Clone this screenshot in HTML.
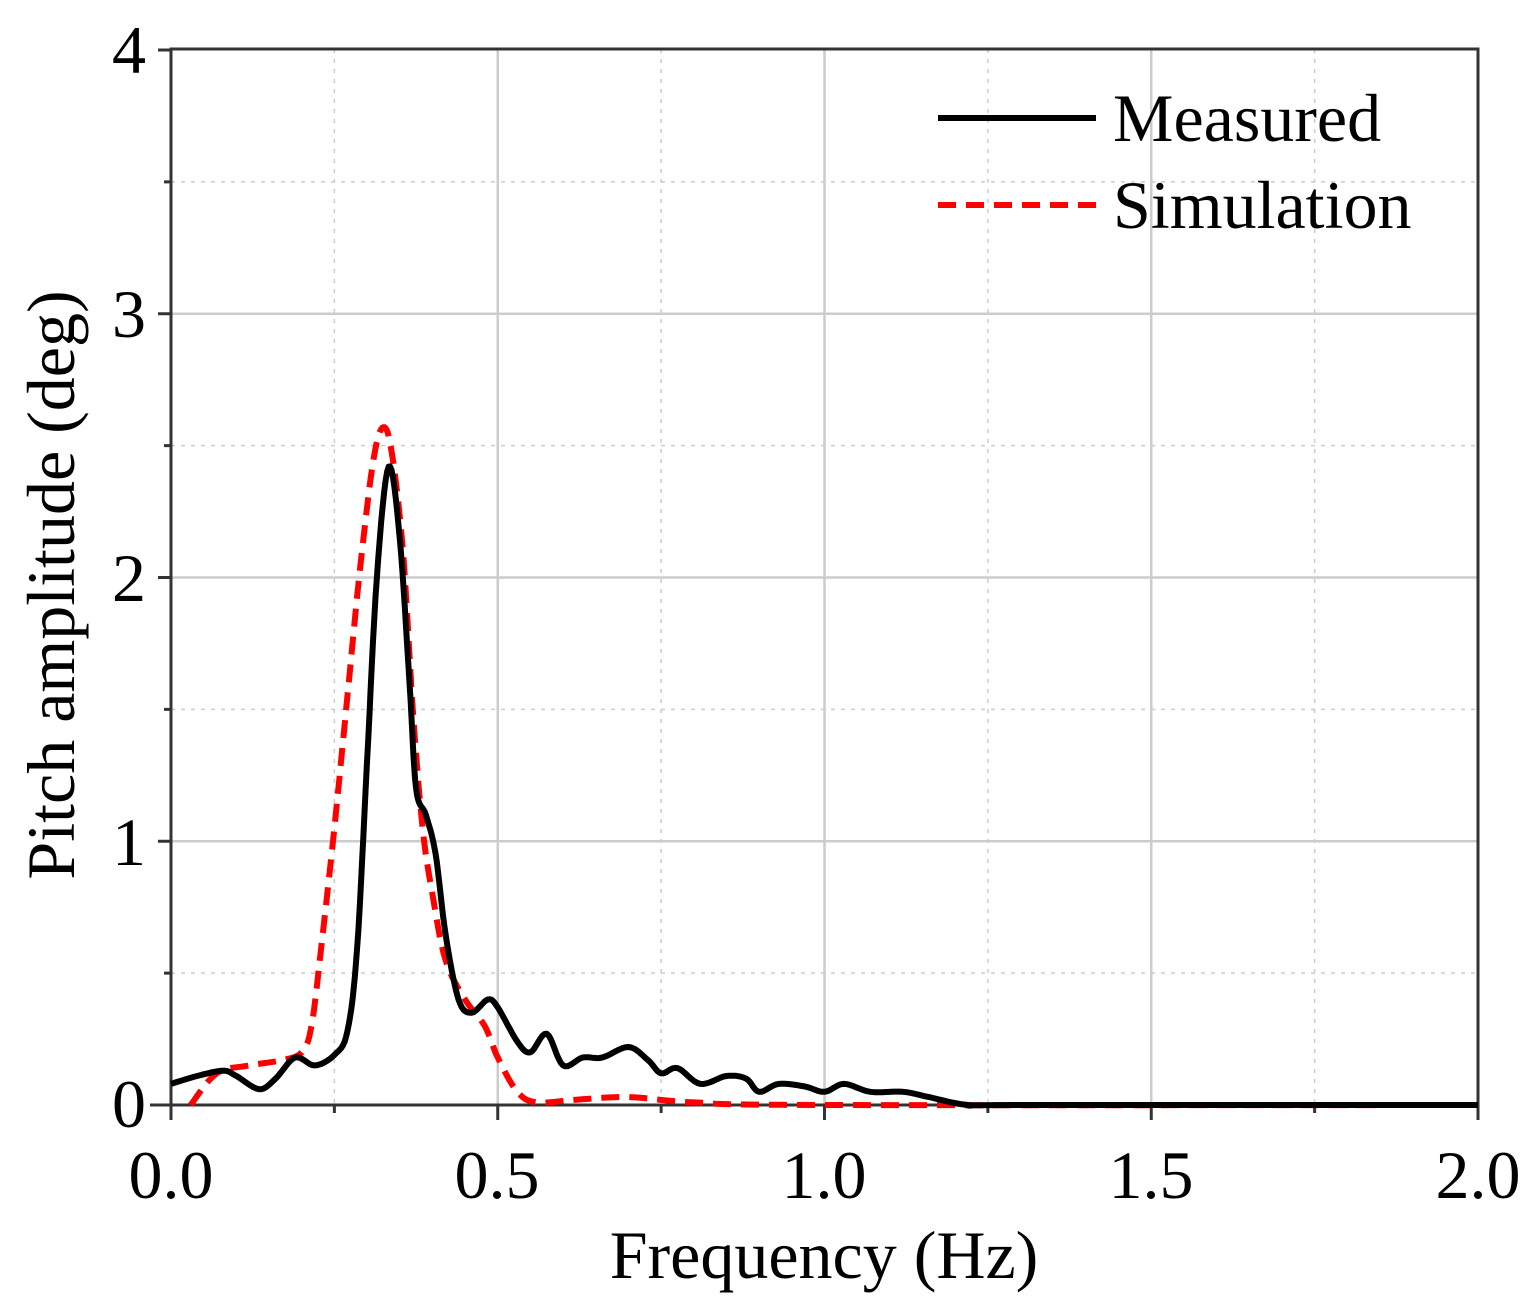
<!DOCTYPE html>
<html><head><meta charset="utf-8"><style>
html,body{margin:0;padding:0;background:#fff;}
svg{display:block;}
text{font-family:"Liberation Serif",serif;fill:#000;}
</style></head><body>
<svg id="s" width="1536" height="1314" viewBox="0 0 1536 1314" xmlns="http://www.w3.org/2000/svg">
<g id="grid"></g>
<rect x="171" y="49" width="1307" height="1056" fill="none" stroke="#333" stroke-width="3"/>
<g id="ticks" stroke="#333" stroke-width="3"></g>
<g font-size="68" text-anchor="end">
<text x="146" y="73">4</text><text x="146" y="337">3</text><text x="146" y="601">2</text><text x="146" y="865">1</text><text x="146" y="1127">0</text>
</g>
<g font-size="68" text-anchor="middle">
<text x="171" y="1198">0.0</text><text x="497" y="1198">0.5</text><text x="824" y="1198">1.0</text><text x="1151" y="1198">1.5</text><text x="1478" y="1198">2.0</text>
</g>
<text x="824" y="1278" font-size="68" text-anchor="middle">Frequency (Hz)</text>
<text transform="translate(74,585) rotate(-90)" font-size="68" text-anchor="middle">Pitch amplitude (deg)</text>
<polyline id="sim" fill="none" stroke="#ff0000" stroke-width="6" stroke-dasharray="18,10"/>
<polyline id="meas" fill="none" stroke="#000" stroke-width="6" stroke-linejoin="round"/>
<line x1="938" y1="118" x2="1096" y2="118" stroke="#000" stroke-width="6"/>
<line x1="938" y1="205" x2="1096" y2="205" stroke="#ff0000" stroke-width="6" stroke-dasharray="18,10"/>
<text x="1113" y="141" font-size="68">Measured</text>
<text x="1113" y="228" font-size="68">Simulation</text>
</svg>
<script>
const X=x=>171+x*653.5, Y=y=>1105-y*263.75;
const g=document.getElementById('grid'), t=document.getElementById('ticks');
let h='';
for(let i=1;i<8;i++){const x=X(i*0.25);h+=`<line x1="${x}" y1="49" x2="${x}" y2="1105" stroke="#ccc" stroke-width="${i%2?1.5:2.5}" ${i%2?'stroke-dasharray="4,6"':''}/>`;}
for(let j=1;j<8;j++){const y=Y(j*0.5);h+=`<line x1="171" y1="${y}" x2="1478" y2="${y}" stroke="#ccc" stroke-width="${j%2?1.5:2.5}" ${j%2?'stroke-dasharray="4,6"':''}/>`;}
g.innerHTML=h;
let k='';
for(let i=0;i<=8;i++){const x=X(i*0.25);k+=`<line x1="${x}" y1="1105" x2="${x}" y2="${i%2?1113:1120}"/>`;}
for(let j=0;j<=8;j++){const y=Y(j*0.5);k+=`<line x1="171" y1="${y}" x2="${j%2?164:158}" y2="${y}"/>`;}
k+=`<line x1="150" y1="1105" x2="171" y2="1105"/>`;
t.innerHTML=k;
function smooth(p){const out=[];for(let i=0;i<p.length-1;i++){const p0=p[Math.max(0,i-1)],p1=p[i],p2=p[i+1],p3=p[Math.min(p.length-1,i+2)];for(let s=0;s<8;s++){const u=s/8,u2=u*u,u3=u2*u;const f=(a,b,c,d)=>0.5*((2*b)+(-a+c)*u+(2*a-5*b+4*c-d)*u2+(-a+3*b-3*c+d)*u3);out.push([f(p0[0],p1[0],p2[0],p3[0]),f(p0[1],p1[1],p2[1],p3[1])]);}}out.push(p[p.length-1]);return out.map(q=>X(q[0]).toFixed(1)+','+Y(q[1]).toFixed(1)).join(' ');}
const meas=[[0,0.08],[0.04,0.11],[0.08,0.13],[0.1,0.11],[0.135,0.06],[0.16,0.1],[0.19,0.18],[0.22,0.15],[0.25,0.19],[0.27,0.28],[0.285,0.6],[0.3,1.3],[0.315,2.0],[0.333,2.42],[0.35,2.15],[0.365,1.6],[0.375,1.2],[0.39,1.1],[0.405,0.95],[0.42,0.65],[0.44,0.4],[0.46,0.35],[0.485,0.4],[0.5,0.37],[0.53,0.24],[0.55,0.2],[0.575,0.27],[0.6,0.15],[0.63,0.18],[0.66,0.18],[0.7,0.22],[0.73,0.17],[0.75,0.12],[0.775,0.14],[0.81,0.08],[0.85,0.11],[0.88,0.1],[0.9,0.05],[0.93,0.08],[0.97,0.07],[1.0,0.05],[1.03,0.08],[1.07,0.05],[1.12,0.05],[1.16,0.03],[1.22,0.0],[1.3,0],[2.0,0]];
const sim=[[0.03,0.0],[0.07,0.12],[0.12,0.15],[0.17,0.17],[0.2,0.2],[0.215,0.3],[0.23,0.6],[0.25,1.05],[0.27,1.55],[0.29,2.05],[0.31,2.45],[0.325,2.57],[0.338,2.47],[0.355,2.1],[0.37,1.5],[0.385,1.05],[0.4,0.8],[0.42,0.55],[0.45,0.4],[0.48,0.3],[0.5,0.18],[0.53,0.05],[0.56,0.01],[0.62,0.02],[0.7,0.03],[0.8,0.01],[1.0,0.0],[2.0,0]];
document.getElementById('meas').setAttribute('points',smooth(meas));
document.getElementById('sim').setAttribute('points',smooth(sim));
</script>
</body></html>
